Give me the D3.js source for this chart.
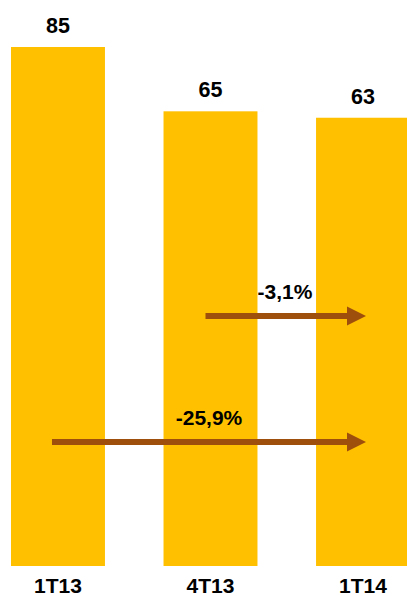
<!DOCTYPE html>
<html>
<head>
<meta charset="utf-8">
<script src="https://cdn.jsdelivr.net/npm/d3@7"></script>
<style>
  html, body { margin: 0; padding: 0; background: #fff; }
  svg { display: block; }
  text { font-family: "Liberation Sans", Arial, sans-serif; font-weight: bold; fill: #000; }
</style>
</head>
<body>
<svg id="chart" width="407" height="596"></svg>
<script>
// Quarterly values
const categories = ["1T13", "4T13", "1T14"];
const values = [85, 65, 63];
const valueLabels = ["85", "65", "63"];

// Variation arrows: from one quarter to another
const changeFrom = ["4T13", "1T13"];
const changeTo = ["1T14", "1T14"];
const changeLabels = ["-3,1%", "-25,9%"];

const W = 407, H = 596;
const baseY = 566;
const arrowRows = [316, 442];

const svg = d3.select("#chart");

const x = d3.scaleBand()
  .domain(categories)
  .range([11, 410])
  .paddingInner(0.384)
  .paddingOuter(0);

const y = d3.scaleLinear()
  .domain([-76.4, 85])
  .range([baseY, 47]);

// Bars
svg.append("g").selectAll("rect")
  .data(categories)
  .join("rect")
  .attr("x", d => x(d))
  .attr("width", x.bandwidth())
  .attr("y", (d, i) => y(values[i]))
  .attr("height", (d, i) => y.range()[0] - y(values[i]))
  .attr("fill", "#FFC000");

// Value labels above bars
svg.append("g").selectAll("text")
  .data(categories)
  .join("text")
  .attr("x", d => x(d) + x.bandwidth() / 2)
  .attr("y", (d, i) => y(values[i]) - 14)
  .attr("text-anchor", "middle")
  .style("font-size", "21.5px")
  .text((d, i) => valueLabels[i]);

// Category axis
const axis = d3.axisBottom(x).tickSize(0).tickPadding(0);
const gAxis = svg.append("g")
  .attr("transform", `translate(0,${baseY})`)
  .call(axis);
gAxis.select(".domain").remove();
gAxis.selectAll("text")
  .attr("dy", null)
  .attr("y", 27)
  .style("font-size", "21px")
  .style("font-family", "'Liberation Sans', Arial, sans-serif")
  .style("font-weight", "bold")
  .attr("fill", "#000");

// Arrows
const arrowColor = "#9E4F0B";
const cx = c => x(c) + x.bandwidth() / 2;

changeLabels.forEach((lab, i) => {
  const x0 = cx(changeFrom[i]) - (i === 0 ? 5 : 6);
  const x1 = cx(changeTo[i]) + 3;
  const yy = arrowRows[i];
  const headLen = 19, headHalf = 9.5, shaft = 6;
  const g = svg.append("g");
  g.append("rect")
    .attr("x", x0)
    .attr("y", yy - shaft / 2)
    .attr("width", x1 - headLen - x0 + 1)
    .attr("height", shaft)
    .attr("fill", arrowColor);
  g.append("path")
    .attr("d", `M${x1 - headLen},${yy - headHalf} L${x1},${yy} L${x1 - headLen},${yy + headHalf} Z`)
    .attr("fill", arrowColor);
  g.append("text")
    .attr("x", i === 0 ? 285 : 209)
    .attr("y", yy - 17)
    .attr("text-anchor", "middle")
    .style("font-size", "21px")
    .text(lab);
});
</script>
</body>
</html>
